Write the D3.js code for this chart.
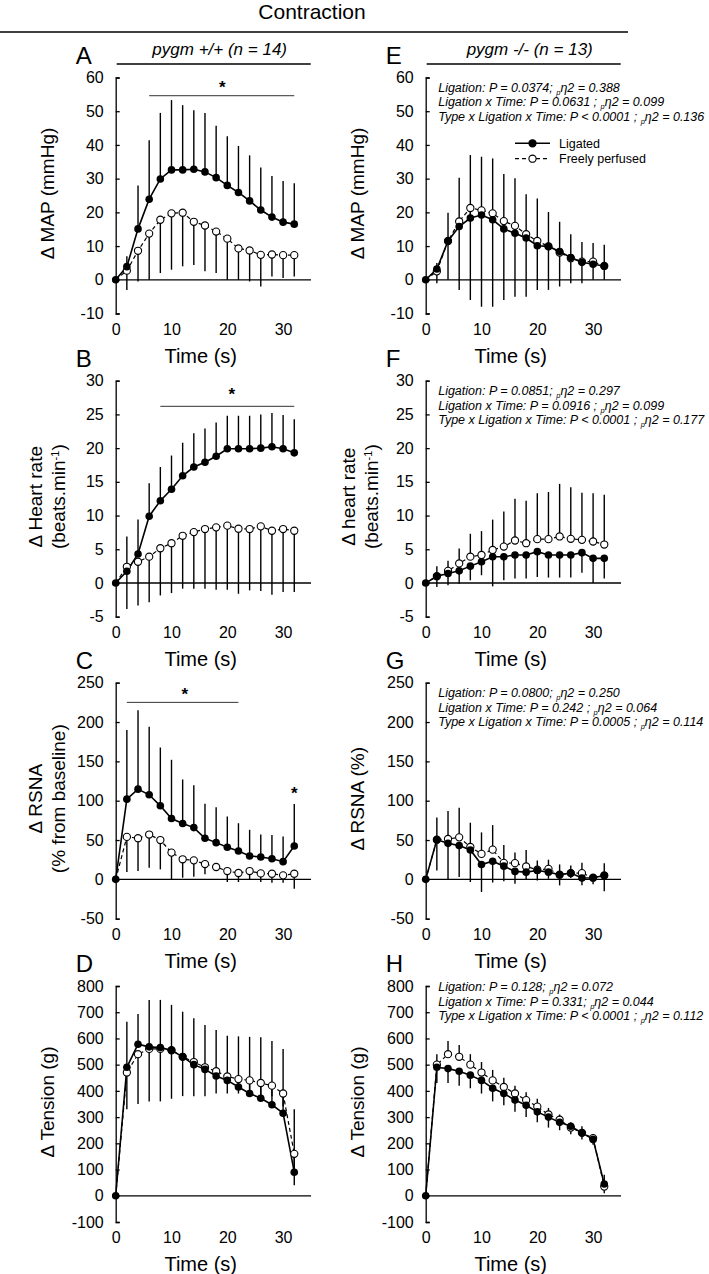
<!DOCTYPE html>
<html><head><meta charset="utf-8">
<script src="https://cdn.jsdelivr.net/npm/d3@7"></script>
<style>body{margin:0;background:#fff} svg{display:block}</style>
</head><body><svg id="c" width="709" height="1274"></svg>
<script>
// ---------- data ----------
const timeS = [0,2,4,6,8,10,12,14,16,18,20,22,24,26,28,30,32];
const xTicks = [0,10,20,30];
const seriesNames = ["Ligated","Freely perfused"];

// Panel A: MAP, pygm +/+
const mapWT_lig     = [0,3.9,15.1,23.9,29.9,32.6,32.6,32.8,32.0,30.3,28.0,25.9,23.4,20.7,18.6,17.1,16.5];
const mapWT_ligErr  = [0,7,28,41.4,49.5,53.3,51.8,50.3,49.5,45.7,42.6,39.7,36.9,33.3,30.8,29.3,28.6];
const mapWT_free    = [0,2.7,8.6,13.7,17.8,19.7,19.9,17.2,16.1,14.3,12.2,9.3,8.7,7.4,7.5,7.3,7.3];
const mapWT_freeErr = [0,-3,-0.5,0,2,3,4,4.4,2.5,2,0,0,-0.5,-2,1,0.5,1];
// Panel B: heart rate, pygm +/+
const hrWT_lig     = [0,1.75,4.3,9.9,12.2,13.9,15.9,17.2,17.9,18.8,19.9,19.9,19.9,20.0,20.2,19.9,19.3];
const hrWT_ligErr  = [0,6.9,9.4,14.8,17.2,18.9,20.8,22.2,22.9,23.8,24.8,24.8,24.8,25.0,25.2,24.9,24.3];
const hrWT_free    = [0,2.4,3.15,3.9,5.15,5.9,7.0,7.55,8.0,8.25,8.5,8.05,8.0,8.4,7.75,8.0,7.75];
const hrWT_freeErr = [0,-3.85,-3.35,-2.85,-1.85,-1.5,-0.85,-0.85,-0.85,-1,-1,-1.6,-1.1,-1.2,-1.75,-1.35,-1.35];
// Panel C: RSNA, pygm +/+
const rsnaWT_lig     = [0,102,114.7,107.5,93.5,77.3,71,65.8,52.3,46.7,40.8,36.1,29.7,28.5,26.3,22.5,42.5];
const rsnaWT_ligErr  = [0,190,215,194,167.6,152,127,119.7,96,91.6,79.8,71.4,63,57,56.3,54.6,95.8];
const rsnaWT_free    = [0,54,52.3,57,50,34,25.5,24.2,19.5,15.7,10.6,8.1,10.6,7.6,7.2,5.1,7.2];
const rsnaWT_freeErr = [0,9.3,10.6,14.9,12.7,0,2.1,3.4,6.4,12,-3.4,-3.4,0,-3.4,-4.2,-4.2,-11.9];
// Panel D: tension, pygm +/+
const tenWT_lig     = [0,490,578,568,565,555,530,500,482,457,440,415,390,372,347,315,90];
const tenWT_ligErr  = [0,664,693,747,747,728,702,677,651,632,610,608,606,605,590,560,330];
const tenWT_free    = [0,470,540,560,560,555,530,510,490,475,455,445,440,430,420,390,160];
const tenWT_freeErr = [0,330,350,360,360,370,380,380,380,390,390,390,390,380,380,340,40];
// Panel E: MAP, pygm -/-
const mapKO_lig     = [0,3.2,11.5,15.8,18.3,19.2,17.8,15.1,13.8,12.4,10.1,9.9,8.4,6.6,5.2,4.6,4.1];
const mapKO_ligErr  = [0,5,19.9,30.3,37.0,36.5,36.0,31.4,30.1,25.4,24.1,20.1,17.2,13.5,11.2,10.9,10.4];
const mapKO_free    = [0,2.5,11.5,17.3,21.3,20.6,19.7,17.4,16.0,13.5,11.5,9.9,8.1,6.4,5.4,5.4,4.1];
const mapKO_freeErr = [0,-1,0,-3,-6,-8,-8,-6,-5,-5,-3,-3,-2,-1,-1,0,0];
// Panel F: heart rate, pygm -/-
const hrKO_lig     = [0,1.0,1.4,1.8,2.5,3.15,3.9,3.9,4.15,4.15,4.65,4.15,4.15,4.15,4.5,3.65,3.65];
const hrKO_ligErr  = [0,-0.6,-0.35,-0.1,0.4,1.15,-0.5,0.4,0.65,0.65,0.9,0.8,0.8,0.8,1.5,0,0.65];
const hrKO_free    = [0,1.0,1.8,2.9,3.9,4.15,4.9,5.4,6.3,5.9,6.5,6.5,6.9,6.55,6.4,6.15,5.7];
const hrKO_freeErr = [0,2.5,3.3,5.1,7.3,7.7,9.4,10.6,12.5,12.2,13.3,13.5,14.7,14.2,13.4,13.3,13.1];
// Panel G: RSNA, pygm -/-
const rsnaKO_lig     = [0,50.4,45.8,42.9,37.4,18.9,23.1,16.8,10.1,9.2,11.3,9.2,5.9,8.0,1.7,2.1,5.0];
const rsnaKO_ligErr  = [0,11.3,-0.4,3,-3.4,-16,-4,-2.5,-5.5,0,-1.3,0.8,-7.6,1.7,-7.6,-6.3,-15];
const rsnaKO_free    = [0,50.4,51.3,53.4,41.2,32.4,37.8,21,20.6,16.4,12.2,13.4,5.9,8,8,2.1,5];
const rsnaKO_freeErr = [0,78.6,87,91,72,59.7,69,43.7,34,37.4,24,25,19,17.6,21,5,20.6];
// Panel H: tension, pygm -/-
const tenKO_lig     = [0,490,485,475,460,440,410,390,365,345,320,300,280,265,240,215,45];
const tenKO_ligErr  = [0,430,430,420,410,390,360,345,320,300,280,260,250,235,215,195,10];
const tenKO_free    = [0,500,540,530,500,470,440,415,390,365,340,310,290,260,240,220,35];
const tenKO_freeErr = [0,540,590,575,540,510,480,450,420,395,370,335,310,280,265,235,80];

const ticksMAP = [-10,0,10,20,30,40,50,60];
const ticksHR = [-5,0,5,10,15,20,25,30];
const ticksRSNA = [-50,0,50,100,150,200,250];
const ticksTEN = [-100,0,100,200,300,400,500,600,700,800];

const statsE = ["Ligation: P = 0.0374; |0.388","Ligation x Time: P = 0.0631 ; |0.099","Type x Ligation x Time: P < 0.0001 ; |0.136"];
const statsF = ["Ligation: P = 0.0851; |0.297","Ligation x Time: P = 0.0916 ; |0.099","Type x Ligation x Time: P < 0.0001 ; |0.177"];
const statsG = ["Ligation: P = 0.0800; |0.250","Ligation x Time: P = 0.242 ; |0.064","Type x Ligation x Time: P = 0.0005 ; |0.114"];
const statsH = ["Ligation: P = 0.128; |0.072","Ligation x Time: P = 0.331; |0.044","Type x Ligation x Time: P < 0.0001 ; |0.112"];

// ---------- drawing ----------
const FONT = '"Liberation Sans", Arial, Helvetica, sans-serif';
const svg = d3.select("#c");
const colX = [115.7, 425.7];
const rowTop = [77.5, 380.7, 682.7, 986];
const PH = 236, PW = 195.3;

function T(sel){ return sel.attr("font-family", FONT).attr("fill","#000"); }

svg.append("text").call(T).attr("x",312).attr("y",19).attr("text-anchor","middle").attr("font-size",21).text("Contraction");
svg.append("line").attr("x1",0).attr("x2",628).attr("y1",32).attr("y2",32).attr("stroke","#000").attr("stroke-width",1.5);

function panel(cfg){
  const x0 = colX[cfg.col], top = rowTop[cfg.row];
  const x = d3.scaleLinear().domain([0,35]).range([x0, x0+PW]);
  const y = d3.scaleLinear().domain([cfg.ticks[0], cfg.ticks[cfg.ticks.length-1]]).range([top+PH, top]);
  const g = svg.append("g");

  g.append("text").call(T).attr("x", x0-40).attr("y", top-14).attr("font-size",24).text(cfg.letter);

  g.append("g").attr("transform",`translate(${x0},0)`)
    .call(d3.axisLeft(y).tickValues(cfg.ticks).tickSizeInner(-4).tickSizeOuter(-4).tickPadding(12).tickFormat(d=>String(d)))
    .call(a=>{
      a.selectAll("text").attr("font-size",16).attr("font-family",FONT).attr("fill","#000");
      a.selectAll("line,path").attr("stroke","#000").attr("stroke-width",1.3);
    });
  g.append("line").attr("x1",x(0)).attr("x2",x(35)).attr("y1",y(0)).attr("y2",y(0))
    .attr("stroke","#000").attr("stroke-width",1.3);
  g.append("g").attr("transform",`translate(0,${top+PH})`)
    .call(d3.axisBottom(x).tickValues(xTicks).tickSize(0).tickPadding(10).tickFormat(d=>String(d)))
    .call(a=>{ a.select(".domain").remove();
      a.selectAll("text").attr("font-size",16).attr("font-family",FONT).attr("fill","#000"); });
  g.append("text").call(T).attr("x", x0+85).attr("y", top+PH+49).attr("text-anchor","middle")
    .attr("font-size",20).text("Time (s)");

  cfg.ytitle.forEach((ln,i)=>{
    const bx = cfg.titleX[i];
    const t = g.append("text").call(T).attr("font-size",19).attr("text-anchor","middle")
      .attr("transform",`translate(${bx},${top+PH/2-2}) rotate(-90)`);
    if (ln.indexOf("^")>=0){
      const parts = ln.split("^");
      t.append("tspan").text(parts[0]);
      t.append("tspan").attr("baseline-shift","super").attr("font-size",11).text(parts[1]);
      t.append("tspan").text(parts[2]);
    } else t.text(ln);
  });

  const bars = [];
  timeS.forEach((t,i)=>{ if(i>0){
    bars.push([t, cfg.lig[i], cfg.ligErr[i]]);
    bars.push([t, cfg.free[i], cfg.freeErr[i]]);
  }});
  g.selectAll(null).data(bars).join("line")
    .attr("x1",d=>x(d[0])).attr("x2",d=>x(d[0])).attr("y1",d=>y(d[1])).attr("y2",d=>y(d[2]))
    .attr("stroke","#000").attr("stroke-width",1.4);

  const line = d3.line().x((d,i)=>x(timeS[i])).y(d=>y(d));
  g.append("path").attr("d", line(cfg.free)).attr("fill","none").attr("stroke","#000")
    .attr("stroke-width",1.2).attr("stroke-dasharray","4,3");
  g.append("path").attr("d", line(cfg.lig)).attr("fill","none").attr("stroke","#000").attr("stroke-width",1.6);

  g.selectAll(null).data(cfg.free.slice(1)).join("circle")
    .attr("cx",(d,i)=>x(timeS[i+1])).attr("cy",d=>y(d)).attr("r",3.6)
    .attr("fill","#fff").attr("stroke","#000").attr("stroke-width",1.1);
  g.selectAll(null).data(cfg.lig).join("circle")
    .attr("cx",(d,i)=>x(timeS[i])).attr("cy",d=>y(d)).attr("r",3.8).attr("fill","#000");

  (cfg.sig||[]).forEach(s=>{
    if (s.from !== undefined)
      g.append("line").attr("x1",x(s.from)).attr("x2",x(s.to)).attr("y1",y(s.v)).attr("y2",y(s.v))
        .attr("stroke","#333").attr("stroke-width",1);
    g.append("text").call(T).attr("x",x(s.star)).attr("y",y(s.sv)+7).attr("text-anchor","middle")
      .attr("font-size",17).attr("font-weight","bold").text("*");
  });

  if (cfg.stats){
    cfg.stats.forEach((s,i)=>{
      const [a,b] = s.split("|");
      const t = g.append("text").call(T).attr("x", x0+12.5).attr("y", top+cfg.statDy+i*14.5+4.5)
        .attr("font-size",12.5).attr("font-style","italic");
      t.append("tspan").text(a);
      t.append("tspan").attr("font-size",7.5).attr("dy",3).text("p");
      t.append("tspan").attr("dy",-3).text("η2 = "+b);
    });
  }
  return {x,y,g,x0,top};
}

panel({col:0,row:0,letter:"A",ticks:ticksMAP,ytitle:["Δ MAP (mmHg)"],titleX:[54],
  lig:mapWT_lig,ligErr:mapWT_ligErr,free:mapWT_free,freeErr:mapWT_freeErr,
  sig:[{from:6,to:32,v:54.6,star:19.1,sv:57.4}]});
panel({col:0,row:1,letter:"B",ticks:ticksHR,ytitle:["Δ Heart rate","(beats.min^-1^)"],titleX:[42,65],
  lig:hrWT_lig,ligErr:hrWT_ligErr,free:hrWT_free,freeErr:hrWT_freeErr,
  sig:[{from:8,to:32,v:26.2,star:20.8,sv:28.2}]});
panel({col:0,row:2,letter:"C",ticks:ticksRSNA,ytitle:["Δ RSNA","(% from baseline)"],titleX:[42,65],
  lig:rsnaWT_lig,ligErr:rsnaWT_ligErr,free:rsnaWT_free,freeErr:rsnaWT_freeErr,
  sig:[{from:2,to:22,v:225,star:12.4,sv:237},{star:32,sv:111}]});
panel({col:0,row:3,letter:"D",ticks:ticksTEN,ytitle:["Δ Tension (g)"],titleX:[54],
  lig:tenWT_lig,ligErr:tenWT_ligErr,free:tenWT_free,freeErr:tenWT_freeErr});
const pE = panel({col:1,row:0,letter:"E",ticks:ticksMAP,ytitle:["Δ MAP (mmHg)"],titleX:[364],
  lig:mapKO_lig,ligErr:mapKO_ligErr,free:mapKO_free,freeErr:mapKO_freeErr,stats:statsE,statDy:9.8});
panel({col:1,row:1,letter:"F",ticks:ticksHR,ytitle:["Δ heart rate","(beats.min^-1^)"],titleX:[355,378],
  lig:hrKO_lig,ligErr:hrKO_ligErr,free:hrKO_free,freeErr:hrKO_freeErr,stats:statsF,statDy:10});
panel({col:1,row:2,letter:"G",ticks:ticksRSNA,ytitle:["Δ RSNA (%)"],titleX:[364],
  lig:rsnaKO_lig,ligErr:rsnaKO_ligErr,free:rsnaKO_free,freeErr:rsnaKO_freeErr,stats:statsG,statDy:10});
panel({col:1,row:3,letter:"H",ticks:ticksTEN,ytitle:["Δ Tension (g)"],titleX:[364],
  lig:tenKO_lig,ligErr:tenKO_ligErr,free:tenKO_free,freeErr:tenKO_freeErr,stats:statsH,statDy:0.7});

[["pygm +/+ (n = 14)",0],["pygm -/- (n = 13)",1]].forEach(([txt,c])=>{
  const x0 = colX[c];
  svg.append("text").call(T).attr("x",x0+104).attr("y",55).attr("text-anchor","middle")
    .attr("font-size",17).attr("font-style","italic").text(txt);
  svg.append("line").attr("x1",x0+1).attr("x2",x0+195).attr("y1",64).attr("y2",64)
    .attr("stroke","#000").attr("stroke-width",1.5);
});

const lg = pE.g;
[[seriesNames[0],143.3,false],[seriesNames[1],158.7,true]].forEach(([name,yy,open])=>{
  lg.append("line").attr("x1",515).attr("x2",550).attr("y1",yy).attr("y2",yy)
    .attr("stroke","#000").attr("stroke-width",open?1.2:1.6).attr("stroke-dasharray",open?"4,3":null);
  lg.append("circle").attr("cx",532.5).attr("cy",yy).attr("r",3.6)
    .attr("fill",open?"#fff":"#000").attr("stroke","#000").attr("stroke-width",1.1);
  lg.append("text").call(T).attr("x",559).attr("y",yy+4.5).attr("font-size",12.5).text(name);
});
</script></body></html>
